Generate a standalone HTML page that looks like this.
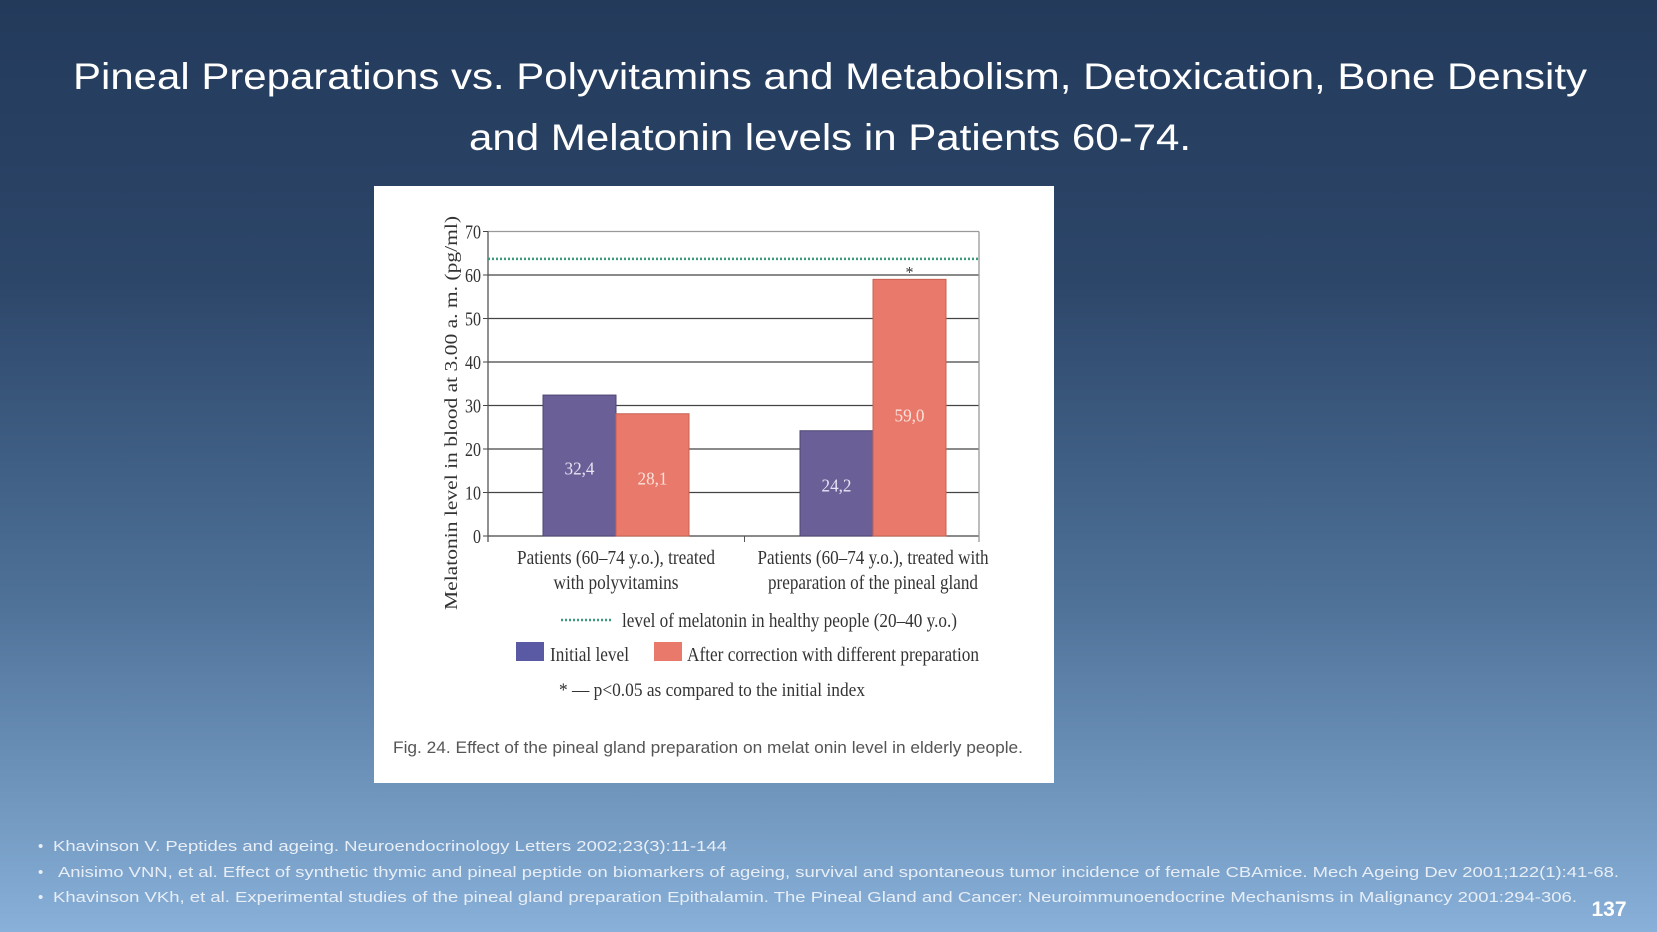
<!DOCTYPE html>
<html><head><meta charset="utf-8"><style>
html,body{margin:0;padding:0;width:1657px;height:932px;overflow:hidden}
svg{display:block}
</style></head><body>
<svg id="slide" width="1657" height="932" viewBox="0 0 1657 932" xmlns="http://www.w3.org/2000/svg">
<defs><linearGradient id="bg" x1="0" y1="0" x2="0" y2="1">
<stop offset="0" stop-color="#233a5b"/><stop offset="0.3" stop-color="#2c4669"/><stop offset="0.65" stop-color="#4f7299"/><stop offset="1" stop-color="#88b0d8"/></linearGradient></defs>
<rect width="1657" height="932" fill="url(#bg)"/>
<g font-family="Liberation Sans, sans-serif" font-size="37" fill="#fff" text-anchor="middle">
<text x="830" y="89" textLength="1514" lengthAdjust="spacingAndGlyphs">Pineal Preparations vs. Polyvitamins and Metabolism, Detoxication, Bone Density</text>
<text x="830" y="150" textLength="722" lengthAdjust="spacingAndGlyphs">and Melatonin levels in Patients 60-74.</text>
</g>
<rect x="374" y="186" width="680" height="597" fill="#fff"/>
<g id="chart" font-family="Liberation Serif, serif" fill="#333"></g>
<text x="393" y="753" font-family="Liberation Sans, sans-serif" font-size="17" fill="#555" textLength="630" lengthAdjust="spacingAndGlyphs">Fig. 24. Effect of the pineal gland preparation on melat    onin level in elderly people.</text>
<g font-family="Liberation Sans, sans-serif" font-size="15" fill="#e8eef6">
<text x="38" y="851">•</text><text x="53" y="851" textLength="674" lengthAdjust="spacingAndGlyphs">Khavinson V. Peptides and ageing. Neuroendocrinology Letters 2002;23(3):11-144</text>
<text x="38" y="877">•</text><text x="58" y="877" textLength="1561" lengthAdjust="spacingAndGlyphs">Anisimo VNN, et al. Effect of synthetic thymic and pineal peptide on biomarkers of ageing, survival and spontaneous tumor incidence of female CBAmice. Mech Ageing Dev 2001;122(1):41-68.</text>
<text x="38" y="902">•</text><text x="53" y="902" textLength="1524" lengthAdjust="spacingAndGlyphs">Khavinson VKh, et al. Experimental studies of the pineal gland preparation Epithalamin. The Pineal Gland and Cancer: Neuroimmunoendocrine Mechanisms in Malignancy 2001:294-306.</text>
</g>
<text x="1609" y="916" font-family="Liberation Sans, sans-serif" font-weight="bold" font-size="21" fill="#fff" text-anchor="middle">137</text>
</svg>
<script>
const categories = ["Patients (60–74 y.o.), treated|with polyvitamins", "Patients (60–74 y.o.), treated with|preparation of the pineal gland"];
const initialLevel = [32.4, 24.2];
const afterCorrection = [28.1, 59.0];
const healthyLevel = 63.7;
const yTicks = [0, 10, 20, 30, 40, 50, 60, 70];
const initialLabels = ["32,4", "24,2"];
const afterLabels = ["28,1", "59,0"];
const significant = [false, true];

const NS = "http://www.w3.org/2000/svg";
const g = document.getElementById('chart');
const X0 = 488, X1 = 979, Y0 = 536, Y70 = 231.5;
const y = v => Y0 - (v / 70) * (Y0 - Y70);
const xc = i => 616 + i * 257;
const BW = 73;
const catWidths = [[198, 125], [231, 210]];
function mk(tag, attrs, parent) {
  const e = document.createElementNS(NS, tag);
  for (const k in attrs) e.setAttribute(k, attrs[k]);
  (parent || g).appendChild(e);
  return e;
}
yTicks.forEach(t => {
  const ln = mk('line', {x1: X0, x2: X1, y1: y(t), y2: y(t), stroke: t === 70 ? '#999' : '#444', 'stroke-width': 1.3});
  
  
  mk('line', {x1: X0 - 5, x2: X0, y1: y(t), y2: y(t), stroke: '#444'});
  const tx = mk('text', {x: X0 - 7, y: y(t) + 7, 'font-size': 20, 'text-anchor': 'end', transform: `translate(${X0 - 7},0) scale(0.8,1) translate(${-(X0 - 7)},0)`});
  tx.textContent = t;
  
  
});
mk('line', {x1: X0, x2: X0, y1: Y70, y2: Y0 + 6, stroke: '#555', 'stroke-width': 1.3});
mk('line', {x1: X1, x2: X1, y1: Y70, y2: Y0 + 6, stroke: '#999', 'stroke-width': 1.3});
mk('line', {x1: (xc(0) + xc(1)) / 2, x2: (xc(0) + xc(1)) / 2, y1: Y0, y2: Y0 + 6, stroke: '#555'});
const hl = mk('line', {x1: X0, x2: X1, y1: y(healthyLevel), y2: y(healthyLevel), stroke: '#3a9a7a', 'stroke-width': 2.5, 'stroke-dasharray': '2 2'});


categories.forEach((c, i) => {
  const b1 = mk('rect', {x: xc(i) - BW, y: y(initialLevel[i]), width: BW, height: Y0 - y(initialLevel[i]), fill: '#6a5f96', stroke: '#4e4676', 'stroke-width': 1});
  
  
  const b2 = mk('rect', {x: xc(i), y: y(afterCorrection[i]), width: BW, height: Y0 - y(afterCorrection[i]), fill: '#e9796a', stroke: '#c86050', 'stroke-width': 1});
  
  
  const l1 = mk('text', {x: xc(i) - BW / 2, y: y(initialLevel[i] * 0.48) + 6, 'font-size': 18, fill: '#e8e4f4', 'text-anchor': 'middle', textLength: 30, lengthAdjust: 'spacingAndGlyphs'});
  l1.textContent = initialLabels[i];
  
  
  const l2 = mk('text', {x: xc(i) + BW / 2, y: y(afterCorrection[i] * 0.47) + 6, 'font-size': 18, fill: '#fbe2dc', 'text-anchor': 'middle', textLength: 30, lengthAdjust: 'spacingAndGlyphs'});
  l2.textContent = afterLabels[i];
  
  
  if (significant[i]) {
    const s = mk('text', {x: xc(i) + BW / 2, y: y(afterCorrection[i]) - 2, 'font-size': 16, 'text-anchor': 'middle'});
    s.textContent = '*';
    
    
  }
  c.split('|').forEach((line, k) => {
    const t = mk('text', {x: xc(i), y: 564 + k * 25, 'font-size': 20, 'text-anchor': 'middle', textLength: catWidths[i][k], lengthAdjust: 'spacingAndGlyphs'});
    t.textContent = line;
    
    
  });
});
const yt = mk('text', {x: 0, y: 0, 'font-size': 18, 'text-anchor': 'middle', transform: 'translate(457,413) rotate(-90)', textLength: 394, lengthAdjust: 'spacingAndGlyphs'});
yt.textContent = 'Melatonin level in blood at 3.00 a. m. (pg/ml)';


const lg = mk('g', {});


mk('line', {x1: 561, x2: 612, y1: 620, y2: 620, stroke: '#3a9a7a', 'stroke-width': 2.5, 'stroke-dasharray': '2 2'}, lg);
let t = mk('text', {x: 622, y: 627, 'font-size': 20, textLength: 335, lengthAdjust: 'spacingAndGlyphs'}, lg); t.textContent = 'level of melatonin in healthy people (20–40 y.o.)';
mk('rect', {x: 516, y: 642, width: 28, height: 19, fill: '#5a5aa4'}, lg);
t = mk('text', {x: 550, y: 661, 'font-size': 20, textLength: 79, lengthAdjust: 'spacingAndGlyphs'}, lg); t.textContent = 'Initial level';
mk('rect', {x: 654, y: 642, width: 28, height: 19, fill: '#e9796a'}, lg);
t = mk('text', {x: 687, y: 661, 'font-size': 20, textLength: 292, lengthAdjust: 'spacingAndGlyphs'}, lg); t.textContent = 'After correction with different preparation';
t = mk('text', {x: 559, y: 696, 'font-size': 19, textLength: 306, lengthAdjust: 'spacingAndGlyphs'}, lg); t.textContent = '* — p<0.05 as compared to the initial index';
</script>
</body></html>
